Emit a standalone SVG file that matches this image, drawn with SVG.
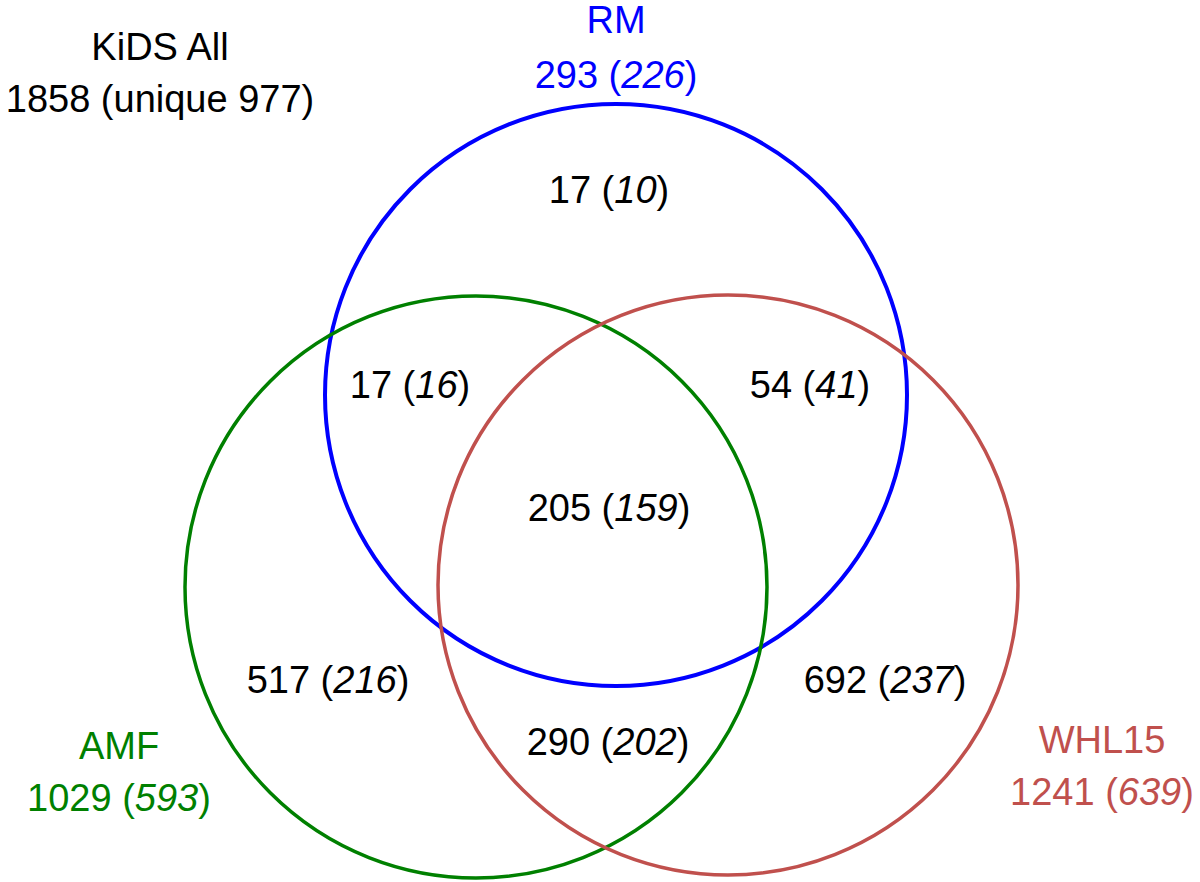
<svg xmlns="http://www.w3.org/2000/svg" width="1200" height="882" viewBox="0 0 1200 882">
<style>
text{font-family:"Liberation Sans",Arial,sans-serif;font-size:38px;text-anchor:middle;fill:#000}
.i{font-style:italic}
.rm{fill:#0000FF}
.amf{fill:#008000}
.whl{fill:#C0504D}
circle{fill:none}
</style>
<rect width="1200" height="882" fill="#fff"/>
<g id="connectors"></g>
<g id="rm-circle"><circle cx="616" cy="395" r="291" stroke="#0000FF" stroke-width="4"/></g>
<g id="amf-circle"><circle cx="476" cy="587" r="291" stroke="#008000" stroke-width="3.5"/></g>
<g id="whl-circle"><circle cx="728" cy="585" r="290" stroke="#C0504D" stroke-width="3.5"/></g>
<g id="kids-label"><text x="160" y="60">KiDS All</text><text x="160" y="112">1858 (unique 977)</text></g>
<g id="rm-label"><text class="rm" x="616" y="33">RM</text><text class="rm" x="616" y="88">293 (<tspan class="i">226</tspan>)</text></g>
<g id="amf-label"><text class="amf" x="119" y="759">AMF</text><text class="amf" x="119" y="811">1029 (<tspan class="i">593</tspan>)</text></g>
<g id="whl-label"><text class="whl" x="1102" y="753">WHL15</text><text class="whl" x="1102" y="805">1241 (<tspan class="i">639</tspan>)</text></g>
<g id="r-rm"><text x="609" y="203">17 (<tspan class="i">10</tspan>)</text></g>
<g id="r-rm-amf"><text x="410" y="398">17 (<tspan class="i">16</tspan>)</text></g>
<g id="r-rm-whl"><text x="810" y="398">54 (<tspan class="i">41</tspan>)</text></g>
<g id="r-all"><text x="609" y="521">205 (<tspan class="i">159</tspan>)</text></g>
<g id="r-amf"><text x="328" y="693">517 (<tspan class="i">216</tspan>)</text></g>
<g id="r-whl"><text x="885" y="693">692 (<tspan class="i">237</tspan>)</text></g>
<g id="r-amf-whl"><text x="608" y="755">290 (<tspan class="i">202</tspan>)</text></g>
</svg>
